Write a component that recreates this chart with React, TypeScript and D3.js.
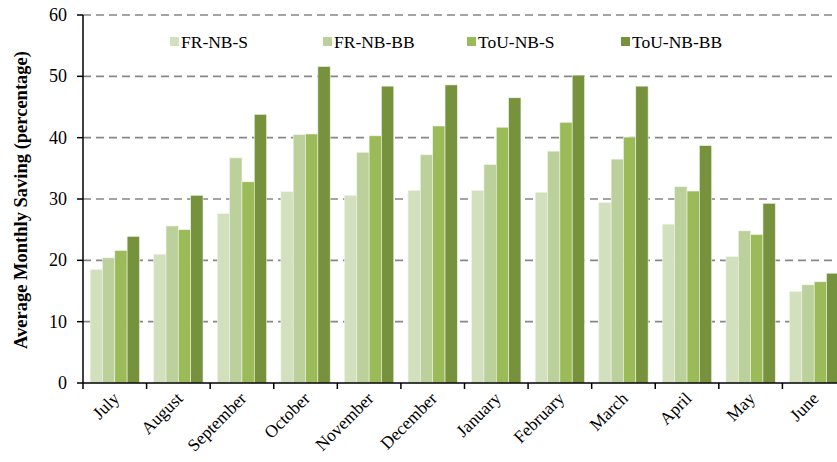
import React from "react";
import * as d3 from "d3";

const months = ["July","August","September","October","November","December","January","February","March","April","May","June"];
const seriesNames = ["FR-NB-S","FR-NB-BB","ToU-NB-S","ToU-NB-BB"];
const frNbS = [18.5,21.0,27.6,31.2,30.6,31.4,31.4,31.1,29.4,25.9,20.6,14.9];
const frNbBB = [20.4,25.6,36.7,40.5,37.6,37.2,35.6,37.8,36.5,32.0,24.8,16.0];
const touNbS = [21.6,25.0,32.8,40.6,40.3,41.9,41.7,42.5,40.1,31.3,24.2,16.5];
const touNbBB = [23.9,30.6,43.8,51.6,48.4,48.6,46.5,50.2,48.4,38.7,29.3,17.9];
const yTicks = [0,10,20,30,40,50,60];
const colors = ["#D3E0BE","#BBD09A","#9BBB59","#76923C"];

const FONT = "Liberation Serif, Times New Roman, serif";

export default function App() {
  const W = 837, H = 462;
  const left = 83, right = 846, top = 15, bottom = 383;
  const series = [frNbS, frNbBB, touNbS, touNbBB];
  const x = d3.scaleBand<string>().domain(months).range([left, right]).paddingInner(0).paddingOuter(0);
  const inner = d3.scaleBand<number>().domain([0,1,2,3]).range([0, x.bandwidth()]).paddingOuter(0.58).paddingInner(0);
  const y = d3.scaleLinear().domain([0,60]).range([bottom, top]);
  const legendX = [170, 323, 467, 621];
  const ts = { fontFamily: FONT, fill: "#000" } as React.CSSProperties;
  return (
    <svg width={W} height={H} style={{position:"absolute", left:0, top:0, fontFamily: FONT}}>
      <rect width={W} height={H} fill="#fff" />
      {yTicks.filter(t => t > 0).map(t => (
        <line key={t} x1={left} x2={W} y1={y(t)} y2={y(t)} stroke="#878787" strokeWidth={1.6} strokeDasharray="8,5" />
      ))}
      {months.map((m, i) => series.map((s, j) => (
        <rect key={m + j} x={(x(m) as number) + (inner(j) as number)} y={y(s[i])} width={inner.bandwidth()} height={bottom - y(s[i])} fill={colors[j]} stroke="#eef3e6" strokeWidth={0.6} />
      )))}
      <line x1={left} x2={left} y1={top} y2={bottom} stroke="#000" strokeWidth={1.5} />
      <line x1={left} x2={W} y1={bottom} y2={bottom} stroke="#000" strokeWidth={1.5} />
      {yTicks.map(t => (
        <g key={t}>
          <line x1={left - 6} x2={left} y1={y(t)} y2={y(t)} stroke="#000" strokeWidth={1.5} />
          <text x={67} y={y(t) + 6} textAnchor="end" style={{...ts, fontSize: "18px"}}>{t}</text>
        </g>
      ))}
      {months.map((m) => (
        <line key={"t" + m} x1={x(m) as number} x2={x(m) as number} y1={bottom} y2={bottom + 6} stroke="#000" strokeWidth={1.5} />
      ))}
      {months.map(m => {
        const cx = (x(m) as number) + x.bandwidth() / 2 + 2;
        const cy = bottom + 13;
        return (
          <text key={"l" + m} transform={`translate(${cx},${cy}) rotate(-45)`} x={0} y={5} textAnchor="end" style={{...ts, fontSize: "17.5px"}}>{m}</text>
        );
      })}
      <text transform={`translate(27, 200) rotate(-90)`} textAnchor="middle" style={{...ts, fontSize: "18.5px", fontWeight: "bold"}}>Average Monthly Saving (percentage)</text>
      {seriesNames.map((n, j) => (
        <g key={n}>
          <rect x={legendX[j]} y={37} width={9} height={9} fill={colors[j]} />
          <text x={legendX[j] + 11} y={48} style={{...ts, fontSize: "17.5px"}}>{n}</text>
        </g>
      ))}
    </svg>
  );
}
